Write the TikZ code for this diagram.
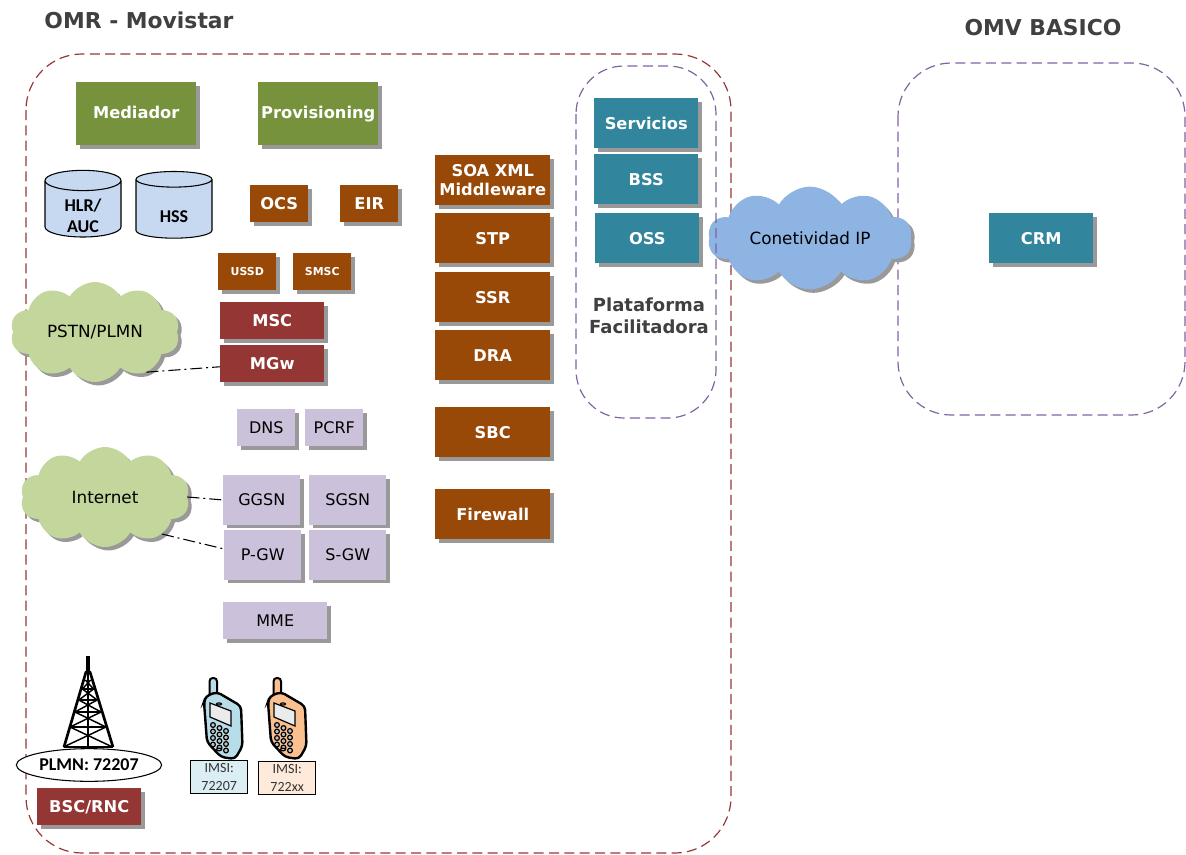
\documentclass[tikz,border=0pt]{standalone}
\usepackage{fontspec}
\setmainfont{DejaVu Sans}
\newfontfamily\calibrifont{Carlito}
\usetikzlibrary{shapes,shadows,positioning,calc}
\definecolor{olivebox}{HTML}{76923C}
\definecolor{brownbox}{HTML}{984807}
\definecolor{redbox}{HTML}{943634}
\definecolor{tealbox}{HTML}{31859C}
\definecolor{lilacbox}{HTML}{CCC1DA}
\definecolor{cylblue}{HTML}{C6D9F1}
\definecolor{cloudgreen}{HTML}{C3D69B}
\definecolor{cloudblue}{HTML}{8EB4E3}
\definecolor{omrline}{HTML}{953735}
\definecolor{omvline}{HTML}{8064A2}
\definecolor{titlegray}{HTML}{404040}
\definecolor{phoneblue}{HTML}{B7DEE8}
\definecolor{phoneorange}{HTML}{FAC090}
\definecolor{imsiblue}{HTML}{DBEEF4}
\definecolor{imsiorange}{HTML}{FDEADA}
\newcommand{\dblabel}[2]{\raisebox{#1}[10pt][0pt]{\shortstack{#2}}}

\begin{document}
\begin{tikzpicture}[
    x=0.75pt, y=-0.75pt,
    base/.style={rectangle, anchor=north west, inner sep=0pt, align=center, text=white,
        font=\bfseries\fontsize{12.2}{14.5}\selectfont,
        drop shadow={shadow xshift=2.6pt, shadow yshift=-2.6pt, fill=black!40, opacity=1}},
    green/.style={base, fill=olivebox, minimum width=90pt, minimum height=47.25pt, text height=9pt, text depth=2.5pt},
    orange/.style={base, fill=brownbox, minimum width=43.5pt, minimum height=27.75pt},
    ussd/.style={orange, font=\bfseries\fontsize{8.2}{10}\selectfont},
    column/.style={base, fill=brownbox, minimum width=86.25pt, minimum height=37.5pt},
    wine/.style={base, fill=redbox, minimum width=78pt, minimum height=27.75pt},
    teal/.style={base, fill=tealbox, minimum width=78pt, minimum height=37.5pt},
    lilac/.style={base, fill=lilacbox, text=black, font=\fontsize{12}{14}\selectfont, minimum width=43.5pt, minimum height=27.75pt},
    gateway/.style={lilac, minimum width=57.75pt, minimum height=37pt},
    db/.style={cylinder, shape border rotate=90, aspect=0.55, draw=black, thick, fill=cylblue, inner sep=0pt,
        minimum width=57pt, minimum height=50pt, align=center, font=\calibrifont\bfseries\fontsize{13.5}{16}\selectfont},
    net/.style={cloud, cloud puffs=10, cloud puff arc=120, aspect=1.7, inner sep=0pt, text=black, font=\fontsize{12.6}{15}\selectfont,
        drop shadow={shadow xshift=2.6pt, shadow yshift=-2.6pt, fill=black!40, opacity=1}},
    region/.style={draw, rounded corners=42pt, line width=0.9pt, dash pattern=on 7.5pt off 4pt},
    title/.style={text=titlegray, font=\bfseries\fontsize{16.4}{19}\selectfont},
    imsi/.style={rectangle, draw=black, thick, anchor=north west, inner sep=0pt, minimum width=43pt, minimum height=24.5pt,
        align=center, font=\calibrifont\fontsize{10.5}{13}\selectfont, text=black!80},
    link/.style={black, thick, dash pattern=on 9pt off 3pt on 1.5pt off 3pt},
    phone/.pic={
        \draw[line width=1.5pt, fill=#1, rounded corners=2.5pt] (5.5,20) rectangle (13,0);
        \draw[line width=1.8pt, fill=#1, rounded corners=3pt] (0,24) -- (2,18) -- (13,14) -- (37,28) -- (38.5,68) -- (31,81) -- (17,79) -- (3,64) -- cycle;
        \draw[line width=0.9pt, fill=black!8] (6,25) -- (27,33) -- (27,48) -- (6,39) -- cycle;
        \foreach \col in {0,1,2}
            \foreach \row in {0,1,2,3}
                \draw[line width=0.9pt, fill=black!25] ({9+6.5*\col},{47+3*\col+6.5*\row}) circle[radius=2.4];
        \draw[line width=0.9pt, fill=black!25] (15,71.5) ellipse[x radius=2.5, y radius=1.3];
        \draw[line width=0.9pt, fill=black!25] (15,26) ellipse[x radius=2.5, y radius=1.1];
    }
]
    \useasboundingbox (0,0) rectangle (1186,854);

    % Regiones
    \draw[region, omrline] (26,54) rectangle (731,853);
    \draw[region, omvline, rounded corners=40pt] (898,63) rectangle (1185,415);

    % Nube central
    \node[net, fill=cloudblue, aspect=2.25, minimum width=153pt, minimum height=77pt] (ip) at (810,238) {Conetividad IP};
    \draw[region, omvline, rounded corners=36pt] (576,66) rectangle (716,418);

    \node[title] (omr) at (139,20) {OMR - Movistar};
    \node[title] (omv) at (1043,28) {OMV BASICO};

    % Columna izquierda
    \node[green] (mediador) at (76,82) {Mediador};
    \node[green] (prov) at (258,82) {Provisioning};
    \node[db] (hlr) at (83,209) {\dblabel{-12.5pt}{HLR/\\[3pt]AUC}};
    \node[db] (hss) at (174,209) {\dblabel{-5pt}{HSS}};
    \node[orange] (ocs) at (250,185) {OCS};
    \node[orange] (eir) at (340,185) {EIR};
    \node[ussd] (ussd) at (218,253) {USSD};
    \node[ussd] (smsc) at (293,253) {SMSC};
    \node[wine] (msc) at (220,302) {MSC};
    \node[wine] (mgw) at (220,345) {MGw};
    \node[lilac] (dns) at (237,409) {DNS};
    \node[lilac] (pcrf) at (305,409) {PCRF};
    \node[gateway] (ggsn) at (223,475) {GGSN};
    \node[gateway] (sgsn) at (309,475) {SGSN};
    \node[gateway] (pgw) at (224,530) {P-GW};
    \node[gateway] (sgw) at (309,530) {S-GW};
    \node[lilac, minimum width=78pt] (mme) at (223,602) {MME};

    % Columna central
    \node[column] (soa) at (435,155) {SOA XML\\Middleware};
    \node[column] (stp) at (435,213) {STP};
    \node[column] (ssr) at (435,272) {SSR};
    \node[column] (dra) at (435,330) {DRA};
    \node[column] (sbc) at (435,407) {SBC};
    \node[column] (fw) at (435,489) {Firewall};

    % Plataforma
    \node[teal] (serv) at (594,98) {Servicios};
    \node[teal] (bss) at (594,154) {BSS};
    \node[teal] (oss) at (595,213) {OSS};
    \node[title, font=\bfseries\fontsize{13.5}{16.5}\selectfont, align=center] (plat) at (649,316) {Plataforma\\Facilitadora};
    \node[teal] (crm) at (989,213) {CRM};

    % Nubes
    \node[net, fill=cloudgreen, minimum width=127pt, minimum height=75pt] (pstn) at (95,332) {PSTN/PLMN};
    \node[net, fill=cloudgreen, minimum width=127pt, minimum height=75pt] (inet) at (105,497) {Internet};
    \draw[link] (pstn.-38) -- ($(mgw.west)+(0,3)$);
    \draw[link] (inet.east) -- (ggsn.west);
    \draw[link] (inet.-33) -- ($(pgw.west)+(0,-6)$);

    % Antena
    \draw[line width=2.4pt] (88,656) -- (88,672);
    \draw[line width=2pt, line join=round] (64,747) -- (86,672) -- (90,672) -- (113,747);
    \draw[line width=1.5pt] (88,672) -- (88,747);
    \foreach \ya/\yb in {680/689, 689/700, 700/712, 712/727, 727/747} {
        \draw[line width=1.1pt] ({88-24.5*(\ya-672)/75},\ya) -- ({88+24.5*(\yb-672)/75},\yb);
        \draw[line width=1.1pt] ({88+24.5*(\ya-672)/75},\ya) -- ({88-24.5*(\yb-672)/75},\yb);
        \draw[line width=1.1pt] ({88-24.5*(\yb-672)/75},\yb) -- ({88+24.5*(\yb-672)/75},\yb);
    }
    \node[ellipse, draw=black, thick, fill=white, inner sep=0pt, minimum width=109pt, minimum height=24.5pt,
        font=\calibrifont\bfseries\fontsize{13.5}{16}\selectfont] (plmn) at (89,765) {PLMN: 72207};
    \node[wine] (bsc) at (37,788) {BSC/RNC};

    % Terminales
    \pic at (204,678) {phone=phoneblue};
    \pic at (268,678) {phone=phoneorange};
    \node[imsi, fill=imsiblue] (imsia) at (190,760) {IMSI:\\72207};
    \node[imsi, fill=imsiorange] (imsib) at (258,761) {IMSI:\\722xx};
\end{tikzpicture}
\end{document}
